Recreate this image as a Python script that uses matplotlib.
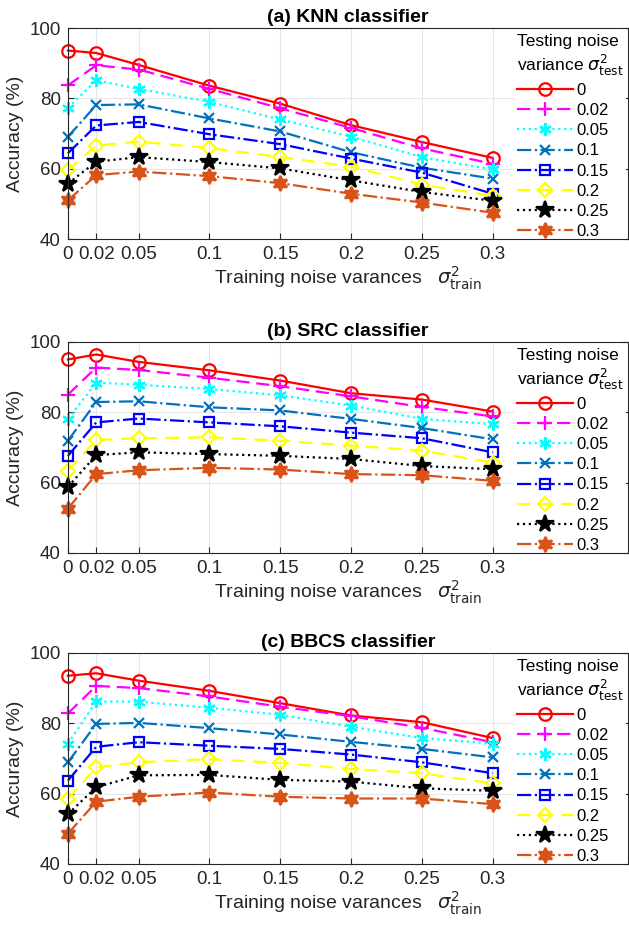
import numpy as np
import matplotlib
matplotlib.use("Agg")
import matplotlib.pyplot as plt

plt.rcParams['font.family'] = ['Liberation Sans', 'DejaVu Sans']
plt.rcParams['mathtext.fontset'] = 'dejavusans'

train_var = [0, 0.02, 0.05, 0.1, 0.15, 0.2, 0.25, 0.3]
tick_labels = ['0', '0.02', '0.05', '0.1', '0.15', '0.2', '0.25', '0.3']
test_labels = ['0', '0.02', '0.05', '0.1', '0.15', '0.2', '0.25', '0.3']
titles = ['(a) KNN classifier', '(b) SRC classifier', '(c) BBCS classifier']

# rows = testing noise variance, cols = training noise variance
knn = [
    [93.6, 92.9, 89.5, 83.6, 78.5, 72.4, 67.6, 63.1],
    [83.7, 89.4, 88.2, 82.7, 77.2, 71.6, 65.8, 61.4],
    [77.3, 85.1, 82.7, 79.0, 74.0, 69.1, 63.3, 59.8],
    [69.1, 78.1, 78.3, 74.3, 70.6, 64.7, 60.3, 57.2],
    [64.4, 72.3, 73.3, 69.8, 67.0, 62.9, 58.9, 52.9],
    [59.6, 66.6, 67.7, 65.9, 63.3, 60.6, 55.5, 52.3],
    [55.8, 62.0, 63.3, 61.9, 60.1, 56.7, 53.4, 50.9],
    [51.0, 58.2, 59.2, 57.9, 55.9, 52.9, 50.4, 47.5],
]
src = [
    [95.0, 96.4, 94.3, 91.9, 89.0, 85.4, 83.6, 80.2],
    [85.0, 92.7, 92.0, 89.8, 87.4, 84.5, 81.5, 78.8],
    [78.1, 88.4, 87.8, 86.6, 84.8, 81.9, 78.1, 76.6],
    [71.9, 82.9, 83.1, 81.4, 80.5, 78.1, 75.5, 72.3],
    [67.6, 77.1, 78.2, 77.1, 76.0, 74.2, 72.6, 68.6],
    [63.4, 72.1, 72.6, 72.9, 71.9, 70.5, 69.1, 65.7],
    [58.8, 67.8, 68.6, 68.1, 67.6, 66.7, 64.7, 63.8],
    [52.6, 62.4, 63.5, 64.2, 63.7, 62.4, 62.1, 60.5],
]
bbcs = [
    [93.5, 94.2, 92.1, 89.2, 85.7, 82.2, 80.3, 75.8],
    [82.8, 90.6, 90.0, 87.6, 84.7, 82.0, 78.7, 74.6],
    [74.2, 86.2, 86.1, 84.4, 82.4, 79.0, 75.8, 74.2],
    [68.9, 79.8, 80.1, 78.6, 76.8, 74.7, 72.7, 70.3],
    [63.7, 73.3, 74.6, 73.6, 72.7, 71.1, 68.9, 65.8],
    [58.5, 67.5, 68.9, 69.8, 68.7, 67.0, 65.8, 62.9],
    [54.2, 61.8, 65.2, 65.3, 63.9, 63.4, 61.5, 60.8],
    [48.6, 57.7, 59.1, 60.3, 59.1, 58.6, 58.6, 57.0],
]
panels = [knn, src, bbcs]

colors = ['#FF0000', '#FF00FF', '#00FFFF', '#0072BD', '#0000FF', '#FFFF00', '#000000', '#D95319']
styles = ['-', (0, (6, 3)), ':', '-.', '-.', (0, (6, 4)), ':', '-.']
markers = ['o', '+', (6, 2, 0), 'x', 's', 'D', '*', (6, 1, 0)]
msizes = [9, 10, 9, 7, 7, 7, 13, 11]
hollow = [True, False, False, False, True, True, False, False]

fig = plt.figure(figsize=(6.29, 9.34), dpi=100)
tops = [0.970, 0.634, 0.301]
h = 0.226

for k in range(3):
    ax = fig.add_axes([0.108, tops[k] - h, 0.891, h])
    for i in range(8):
        kw = dict(color=colors[i], linestyle=styles[i], marker=markers[i],
                  markersize=msizes[i], linewidth=1.6, markeredgewidth=1.6,
                  clip_on=False, zorder=3)
        if hollow[i]:
            kw['markerfacecolor'] = 'none'
        ax.plot(train_var, panels[k][i], label=test_labels[i], **kw)
    ax.set_xlim(0, 0.396)
    ax.set_ylim(40, 100)
    ax.set_xticks(train_var)
    ax.set_xticklabels(tick_labels)
    ax.set_yticks([40, 60, 80, 100])
    ax.grid(True, color='#E6E6E6', linewidth=0.8)
    ax.set_axisbelow(True)
    ax.tick_params(direction='in', labelsize=13.5, colors='#262626', length=4,
                   right=True, top=False, pad=5)
    for sp in ax.spines.values():
        sp.set_color('#262626')
        sp.set_linewidth(0.8)
        sp.set_zorder(6)
    ax.set_ylabel('Accuracy (%)', fontsize=14, color='#262626', labelpad=4)
    ax.set_xlabel('Training noise varances   $\\sigma^2_{\\mathrm{train}}$', fontsize=14,
                  color='#262626', labelpad=1)
    ax.set_title(titles[k], fontsize=14, fontweight='bold', pad=4)
    leg = ax.legend(loc='upper right', bbox_to_anchor=(1.0, 0.995), fontsize=12,
                    title='Testing noise\nvariance $\\sigma^2_{\\mathrm{test}}$',
                    title_fontsize=12.5, frameon=True, framealpha=1, edgecolor='none',
                    handlelength=3.4, labelspacing=0.31, handletextpad=0.2,
                    borderpad=0.15, borderaxespad=0.15)
    leg._legend_box.align = 'left'
    leg.set_zorder(5)

fig.savefig('out.png', dpi=100)
